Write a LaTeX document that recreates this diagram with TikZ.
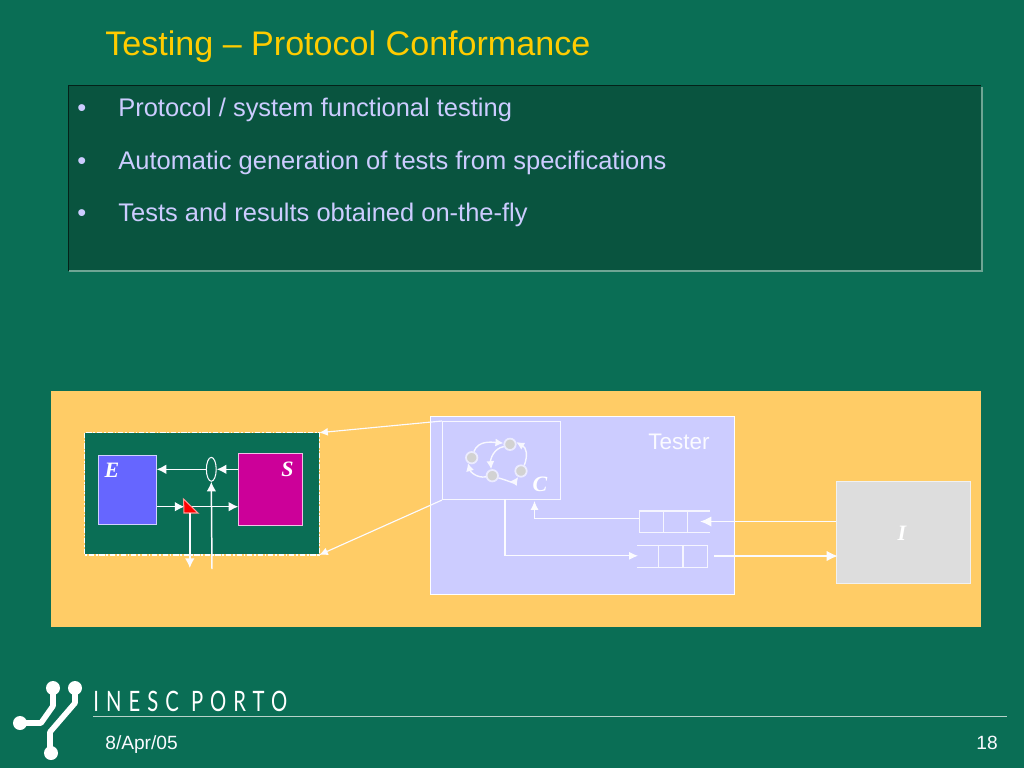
\documentclass[tikz,border=0pt]{standalone}
\usepackage{fontspec}
\setmainfont{Liberation Sans}
\newfontfamily\labelfont{Liberation Serif}
\newfontfamily\logofont[LetterSpace=25,FakeStretch=0.72]{Lato}
\usetikzlibrary{shapes.geometric, arrows.meta, positioning, calc}
\definecolor{slidebg}{HTML}{0A6E55}
\definecolor{paneldark}{HTML}{09543F}
\definecolor{panelline}{HTML}{6FA594}
\definecolor{titlegold}{HTML}{FFCC00}
\definecolor{bodyblue}{HTML}{CCCCFF}
\definecolor{sandbox}{HTML}{FFCC66}
\definecolor{envblue}{HTML}{6666FF}
\definecolor{sutpink}{HTML}{CC0099}
\definecolor{impgrey}{HTML}{DDDDDD}
\definecolor{stategrey}{HTML}{D2D2D2}
\tikzset{
  bullet/.style={anchor=base west, text=bodyblue, inner sep=0pt, font=\fontsize{14.5}{16}\selectfont},
  plainbox/.style={anchor=north west, inner sep=0pt, draw=white, line width=0.6pt},
  tag/.style={inner sep=0pt, text=white, font=\labelfont\bfseries\itshape\fontsize{12.5}{14}\selectfont},
  wire/.style={white!92!bodyblue, line width=0.85pt, -{Latex[length=5.5pt,width=5.5pt]}},
  thinwire/.style={white!92!bodyblue, line width=0.65pt, -{Latex[length=5pt,width=4.5pt]}},
  thickwire/.style={white!92!bodyblue, line width=1.05pt, -{Latex[length=6.5pt,width=6pt]}},
  loopwire/.style={white!85!bodyblue, line width=0.8pt, -{Latex[length=4.6pt,width=4.6pt]}},
  statedot/.style={circle, draw=white!60!bodyblue, fill=stategrey, line width=1pt, minimum size=6.5pt, inner sep=0pt},
  cell/.style={white!80!bodyblue, line width=0.6pt},
}
\begin{document}
\begin{tikzpicture}[x=0.02cm,y=-0.02cm]
\fill[slidebg] (0,0) rectangle (1024,768);
\useasboundingbox (0,0) rectangle (1024,768);

% Title and bullets
\node[anchor=base west, inner sep=0pt, text=titlegold, font=\fontsize{19.4}{22}\selectfont] (title) at (105,55) {Testing -- Protocol Conformance};
\fill[paneldark] (68,85) rectangle (981,270);
\draw[panelline, line width=1.1pt] (982,87) -- (982,271) -- (69,271);
\draw[black!60!paneldark, line width=0.4pt] (68,271) -- (68,85) -- (981,85);
\foreach \y/\name/\txt in {116/one/{Protocol / system functional testing},
    169/two/{Automatic generation of tests from specifications},
    221/three/{Tests and results obtained on-the-fly}} {
  \node[bullet] (dot\name) at (77,\y) {•};
  \node[bullet] (item\name) at (118,\y) {\txt};
}

% Yellow band
\fill[sandbox] (51,391) rectangle (981,627);

% System under test (left)
\node[plainbox, draw=none, fill=slidebg, minimum width=132.8pt, minimum height=69pt] (sutarea) at (84.7,432.7) {};
\draw[white, line width=0.6pt, dash pattern=on 3pt off 1pt on 1pt off 1pt] (sutarea.north west) rectangle (sutarea.south east);
\node[plainbox, draw=white!70!envblue, fill=envblue, minimum width=32.6pt, minimum height=39.8pt] (E) at (98.3,454.5) {};
\node[plainbox, draw=white!75!sutpink, fill=sutpink, minimum width=36.4pt, minimum height=41pt] (S) at (238.3,452.7) {};
\node[tag, anchor=base] (Elabel) at (112,477) {E};
\node[tag, anchor=base] (Slabel) at (287.5,476) {S};
\node[ellipse, draw=white!92!bodyblue, line width=0.6pt, inner sep=0pt, minimum width=5.6pt, minimum height=13.6pt] (tap) at (211.3,469.3) {};
\coordinate (tri) at (190,506.7);
\coordinate (tapfoot) at (212,569);
\coordinate (obsfoot) at (189.8,568);
\draw[wire] (S.west |- tap) -- (tap.east);
\draw[wire] (tap.west) -- (E.east |- tap);
\draw[wire] (E.east |- tri) -- ($(tri)+(-5.5,0)$);
\draw[wire] (tri) -- (S.west |- tri);
\draw[wire] (tapfoot) -- (tap.south);
\fill[red, draw=white!60!red, line width=0.6pt] (183.5,499) -- (184,513) -- (198,513) -- cycle;
\draw[wire] (obsfoot |- 0,513) -- (obsfoot);

% Tester box with controller and queues
\node[plainbox, fill=bodyblue, minimum width=173pt, minimum height=101.3pt] (tester) at (430,416) {};
\node[anchor=base, inner sep=0pt, text=white!90!bodyblue, font=\fontsize{12.8}{14}\selectfont] (testerlabel) at (679,449) {Tester};
\node[plainbox, draw=white!85!bodyblue, minimum width=67pt, minimum height=44.4pt] (ctrl) at (442,421) {};
\node[tag, anchor=base] (Clabel) at (540,491) {C};
\node[statedot] (sa) at (471.7,457.7) {};
\node[statedot] (sb) at (510,444.3) {};
\node[statedot] (sc) at (521,471) {};
\node[statedot] (sd) at (492.3,475.7) {};
\draw[loopwire] (sa) to[out=70,in=175] (sb.170);
\draw[loopwire] (sb.200) to[out=190,in=95] (sd.100);
\draw[loopwire] (sd.190) to[out=190,in=-75] (sa.235);
\draw[loopwire] (sd.-20) to[out=-15,in=-125] (sc.-115);
\draw[loopwire] (sc.60) to[out=70,in=-30,looseness=1.2] (sb.20);

% Queues
\draw[cell] (710,511) -- (639.3,511) -- (639.3,532.7) -- (710,532.7);
\draw[cell] (663.5,511) -- (663.5,532.7) (687.5,511) -- (687.5,532.7);
\coordinate (inq) at (639.3,518.3);
\coordinate (inhead) at (700,521.5);
\draw[cell] (637,545.3) -- (707.5,545.3) -- (707.5,567.3) -- (637,567.3);
\draw[cell] (658.7,545.3) -- (658.7,567.3) (683,545.3) -- (683,567.3);
\coordinate (outq) at (638,555.8);
\coordinate (outhead) at (714,556);
\coordinate (ctrlfoot) at (505,499);
\coordinate (ctrlin) at (534.5,501);
\draw[thinwire] (inq) -- (ctrlin |- inq) -- (ctrlin);
\draw[thinwire] (ctrlfoot) -- (ctrlfoot |- outq) -- (outq);

% Implementation box
\node[plainbox, draw=white!60!impgrey, fill=impgrey, minimum width=76pt, minimum height=58.4pt] (I) at (836,480.5) {};
\node[tag, anchor=base] (Ilabel) at (902,540) {I};
\draw[thickwire] (I.west |- inhead) -- (inhead);
\draw[thickwire] (outhead) -- ($(I.west |- outhead)+(2,0)$);

% Zoom lines from controller to system
\draw[thinwire] (ctrl.north west) -- (sutarea.north east);
\draw[thinwire] (ctrl.south west) -- (sutarea.south east);

% Footer
\draw[panelline!50!white, line width=0.7pt] (93,716.5) -- (1007,716.5);
\node[anchor=base west, inner sep=0pt, text=white, font=\logofont\fontsize{16}{18}\selectfont] (brand) at (93,711) {INESC PORTO};
\node[anchor=base west, inner sep=0pt, text=white!90!bodyblue, font=\fontsize{10.9}{12}\selectfont] (datelabel) at (105,749) {8/Apr/05};
\node[anchor=base east, inner sep=0pt, text=white!90!bodyblue, font=\fontsize{10.9}{12}\selectfont] (pagelabel) at (998,749) {18};
\begin{scope}[white, line width=3.2pt, line join=round]
\draw (53,688) -- (53,706) -- (41,723) -- (20,723);
\draw (75,688) -- (75,703) -- (50,732) -- (50,753);
\fill (53,688) circle (7);
\fill (75,688) circle (7);
\fill (20,723) circle (7);
\fill (51,753) circle (7);
\end{scope}
\end{tikzpicture}
\end{document}
